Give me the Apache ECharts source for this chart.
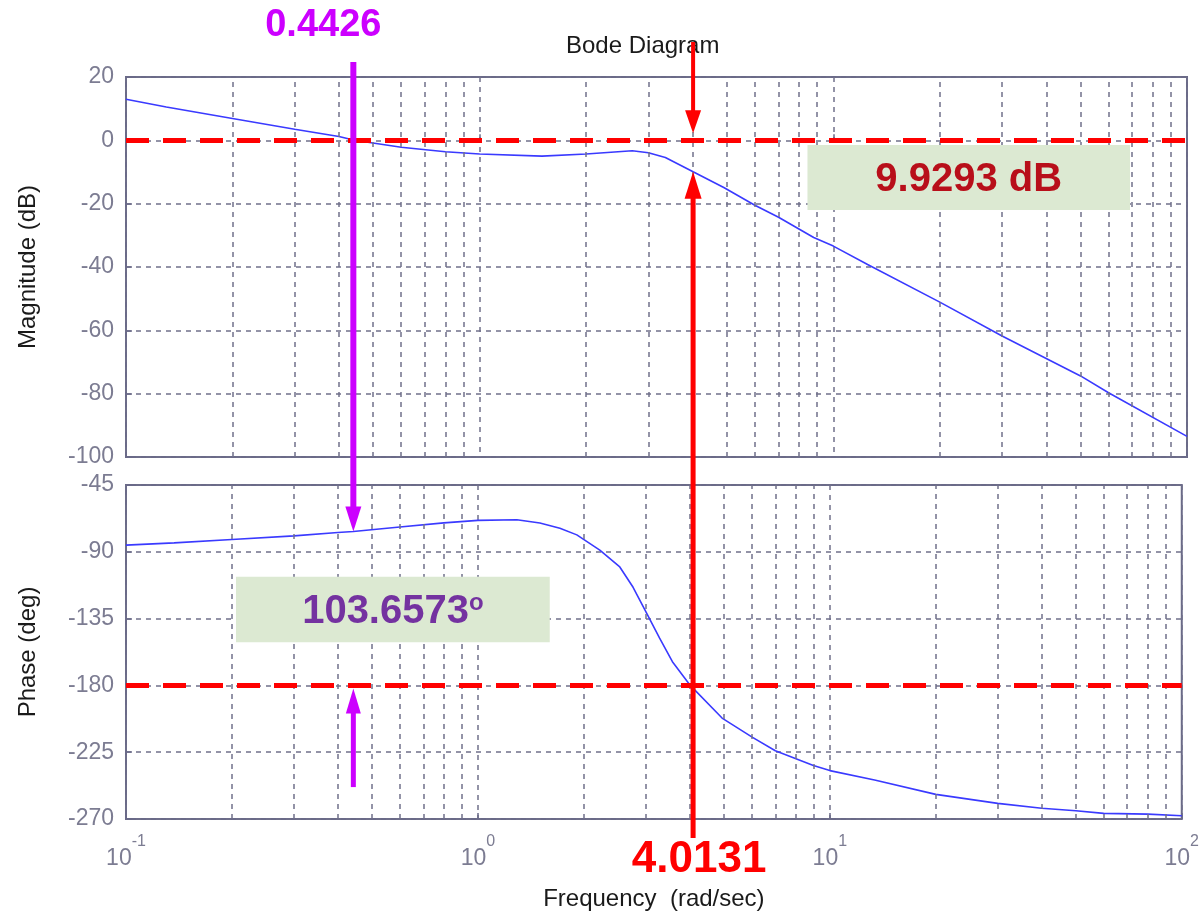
<!DOCTYPE html>
<html>
<head>
<meta charset="utf-8">
<title>Bode Diagram</title>
<script src="https://cdn.jsdelivr.net/npm/echarts@6/dist/echarts.min.js"></script>
<style>
  html, body { margin: 0; padding: 0; background: #ffffff; }
  #chart { width: 1202px; height: 914px; }
</style>
</head>
<body>
<div id="chart"></div>
<script>
// Open-loop frequency response (rad/sec), magnitude in dB
const magFreq = [0.1, 0.13, 0.2, 0.3, 0.4, 0.4426, 0.6, 0.8, 1.0, 1.5, 2.0, 2.7, 3.0, 3.35, 4.0131, 4.9, 6.0, 7.0, 8.8, 10, 12.5, 20, 30, 50, 60, 100];
const magDb   = [13.0, 10.5, 6.9, 3.5, 1.2, 0, -2.2, -3.6, -4.3, -5.0, -4.3, -3.3, -3.9, -5.4, -9.9293, -14.9, -20.5, -24.3, -30.7, -33.4, -39.2, -51.1, -61.8, -74.4, -79.7, -93.5];

// Phase in degrees
const phaseFreq = [0.1, 0.137, 0.2, 0.3, 0.4, 0.4426, 0.6, 0.8, 1.0, 1.29, 1.5, 1.71, 1.91, 2.22, 2.53, 2.76, 3.01, 3.28, 3.57, 4.0131, 4.94, 6.03, 7.0, 8.98, 10, 13.4, 20, 30, 40, 50, 60, 80, 100];
const phaseDeg  = [-85.5, -84.0, -81.7, -79.3, -77.0, -76.34, -73.3, -70.5, -68.8, -68.4, -70.6, -74.1, -78.6, -88.9, -100.2, -113.9, -131.0, -148.0, -164.0, -180.0, -202.0, -215.0, -224.0, -234.0, -237.4, -243.7, -253.4, -259.5, -262.8, -264.4, -266.2, -266.7, -267.8];

// Stability margins
const phaseCrossFreq = 0.4426;   // gain crossover (0 dB)
const phaseMarginDeg = 103.6573;
const gainCrossFreq = 4.0131;    // phase crossover (-180 deg)
const gainMarginDb = 9.9293;

// Axis ticks
const xTickExponents = ['-1', '0', '1', '2'];
const minorFreqs = [0.2, 0.3, 0.4, 0.5, 0.6, 0.7, 0.8, 0.9, 2, 3, 4, 5, 6, 7, 8, 9, 20, 30, 40, 50, 60, 70, 80, 90];

const FONT = '"Liberation Sans", Arial, Helvetica, sans-serif';
const GRID_COLOR = '#70708a';
const FRAME_COLOR = '#6a6a88';
const LABEL_COLOR = '#7c7c92';
const MAGENTA = '#cc00ff';
const RED = '#ff0000';

const zip = (a, b) => a.map((v, i) => [v, b[i]]);

function xAxisCfg(gi, showLabels) {
  return {
    type: 'log', logBase: 10, gridIndex: gi, min: 0.1, max: 100,
    axisLine: { show: false },
    axisTick: { show: true, inside: true, length: 6, lineStyle: { color: FRAME_COLOR, width: 1.5 } },
    splitLine: { show: true, lineStyle: { color: GRID_COLOR, type: [5, 5], width: 1.5 } },
    axisLabel: showLabels ? {
      margin: 15,
      formatter: function (v) {
        const e = Math.round(Math.log10(v));
        return '{b|10}{s|' + xTickExponents[e + 1] + '}';
      },
      rich: {
        b: { fontSize: 23, color: LABEL_COLOR, fontFamily: FONT, padding: [13, 0, 0, 0] },
        s: { fontSize: 16, color: LABEL_COLOR, fontFamily: FONT, verticalAlign: 'top' }
      }
    } : { show: false },
    name: showLabels ? 'Frequency  (rad/sec)' : '',
    nameLocation: 'middle',
    nameGap: 68,
    nameTextStyle: { fontSize: 24, color: '#1a1a1a', fontFamily: FONT }
  };
}

function yAxisCfg(gi, min, max, step, name) {
  return {
    type: 'value', gridIndex: gi, min: min, max: max, interval: step,
    axisLine: { show: false },
    axisTick: { show: true, inside: true, length: 6, lineStyle: { color: FRAME_COLOR, width: 1.5 } },
    splitLine: { show: true, lineStyle: { color: GRID_COLOR, type: [5, 5], width: 1.5 } },
    axisLabel: { fontSize: 23, color: LABEL_COLOR, fontFamily: FONT, margin: 12 },
    name: name, nameLocation: 'middle', nameGap: 86, nameRotate: 90,
    nameTextStyle: { fontSize: 24, color: '#1a1a1a', fontFamily: FONT }
  };
}

function minorGridSeries(gi) {
  return {
    type: 'line', xAxisIndex: gi, yAxisIndex: gi, silent: true, z: 1,
    data: [[1, gi === 0 ? -40 : -135]], showSymbol: false,
    lineStyle: { opacity: 0 },
    markLine: {
      silent: true, symbol: ['none', 'none'], label: { show: false }, animation: false,
      lineStyle: { color: GRID_COLOR, type: [5, 5], width: 1.5 },
      data: minorFreqs.map(v => ({ xAxis: v }))
    }
  };
}

function refLineSeries(gi, yVal) {
  return {
    type: 'line', xAxisIndex: gi, yAxisIndex: gi, silent: true, z: 5,
    data: [[1, yVal]], showSymbol: false,
    lineStyle: { opacity: 0 },
    markLine: {
      silent: true, symbol: ['none', 'none'], label: { show: false }, animation: false,
      lineStyle: { color: RED, type: [23, 14], width: 5 },
      data: [{ yAxis: yVal }]
    }
  };
}

const chart = echarts.init(document.getElementById('chart'), null, { renderer: 'canvas' });

const option = {
  animation: false,
  backgroundColor: '#ffffff',
  title: {
    text: 'Bode Diagram', left: 566, top: 34, padding: 0,
    textStyle: { fontSize: 24, fontWeight: 'normal', color: '#1a1a1a', fontFamily: FONT }
  },
  grid: [
    { left: 126, right: 15, top: 77, height: 380, show: true, borderColor: FRAME_COLOR, borderWidth: 2, backgroundColor: 'transparent' },
    { left: 126, right: 15, top: 485, height: 334, show: true, borderColor: FRAME_COLOR, borderWidth: 2, backgroundColor: 'transparent' }
  ],
  xAxis: [xAxisCfg(0, false), xAxisCfg(1, true)],
  yAxis: [
    yAxisCfg(0, -100, 20, 20, 'Magnitude (dB)'),
    yAxisCfg(1, -270, -45, 45, 'Phase (deg)')
  ],
  series: [
    minorGridSeries(0),
    minorGridSeries(1),
    {
      name: 'Magnitude', type: 'line', xAxisIndex: 0, yAxisIndex: 0, z: 3,
      data: zip(magFreq, magDb), showSymbol: false, smooth: false,
      lineStyle: { color: '#3a3aff', width: 1.6 }
    },
    {
      name: 'Phase', type: 'line', xAxisIndex: 1, yAxisIndex: 1, z: 3,
      data: zip(phaseFreq, phaseDeg), showSymbol: false, smooth: false,
      lineStyle: { color: '#3a3aff', width: 1.6 }
    },
    refLineSeries(0, 0),
    refLineSeries(1, -180)
  ]
};

chart.setOption(option);

// Margin annotations, placed through the axes' own scales
const px = (gi, x, y) => chart.convertToPixel({ gridIndex: gi }, [x, y]);

function arrow(x, yFrom, yTip, color, lineW, headW, headL) {
  const dir = yTip > yFrom ? 1 : -1;
  const base = yTip - dir * headL;
  return [
    { type: 'line', z: 20, silent: true,
      shape: { x1: x, y1: yFrom, x2: x, y2: base + dir * 2 },
      style: { stroke: color, lineWidth: lineW } },
    { type: 'polygon', z: 20, silent: true,
      shape: { points: [[x - headW / 2, base], [x + headW / 2, base], [x, yTip]] },
      style: { fill: color } }
  ];
}

const pmPhase = -180 + phaseMarginDeg;
const pTopFrame = px(0, phaseCrossFreq, 20);
const pPmTip = px(1, phaseCrossFreq, pmPhase);
const pPmLow = px(1, phaseCrossFreq, -180);
const pPmTail = px(1, phaseCrossFreq, -248.5);

const gZero = px(0, gainCrossFreq, 0);
const gTip = px(0, gainCrossFreq, -gainMarginDb);
const gBottom = px(1, gainCrossFreq, -270);

const box1a = px(0, 8.45, -1.5), box1b = px(0, 69, -22);
const box2a = px(1, 0.2054, -106.8), box2b = px(1, 1.60, -151);

const graphics = [].concat(
  arrow(pPmTip[0], pTopFrame[1] - 15, pPmTip[1], MAGENTA, 6, 16, 25),
  arrow(pPmTip[0], pPmTail[1], pPmLow[1] + 3, MAGENTA, 5, 15, 25),
  arrow(gZero[0], pTopFrame[1] - 35, gZero[1] - 7, RED, 4, 16, 23),
  arrow(gTip[0], gBottom[1] + 19, gTip[1], RED, 5, 17, 27),
  [
    { type: 'text', z: 21, silent: true, x: pPmTip[0] - 30, y: 26,
      style: { text: String(phaseCrossFreq), fill: MAGENTA, font: 'bold 38px ' + FONT, align: 'center', verticalAlign: 'middle' } },
    { type: 'text', z: 21, silent: true, x: gZero[0] + 6, y: 860,
      style: { text: String(gainCrossFreq), fill: RED, font: 'bold 44px ' + FONT, align: 'center', verticalAlign: 'middle' } },
    { type: 'rect', z: 15, silent: true,
      shape: { x: box1a[0], y: box1a[1], width: box1b[0] - box1a[0], height: box1b[1] - box1a[1] },
      style: { fill: '#dce9d2' } },
    { type: 'text', z: 21, silent: true, x: (box1a[0] + box1b[0]) / 2, y: (box1a[1] + box1b[1]) / 2 + 2,
      style: { text: gainMarginDb.toFixed(4) + ' dB', fill: '#b80f1a', font: 'bold 40px ' + FONT, align: 'center', verticalAlign: 'middle' } },
    { type: 'rect', z: 15, silent: true,
      shape: { x: box2a[0], y: box2a[1], width: box2b[0] - box2a[0], height: box2b[1] - box2a[1] },
      style: { fill: '#dce9d2' } },
    { type: 'text', z: 21, silent: true, x: (box2a[0] + box2b[0]) / 2, y: (box2a[1] + box2b[1]) / 2 + 2,
      style: {
        text: '{a|' + phaseMarginDeg.toFixed(4) + '}{o|o}',
        align: 'center', verticalAlign: 'middle',
        rich: {
          a: { fill: '#7432a0', fontSize: 40, fontWeight: 'bold', fontFamily: FONT },
          o: { fill: '#7432a0', fontSize: 24, fontWeight: 'bold', fontFamily: FONT, verticalAlign: 'top' }
        }
      } }
  ]
);

chart.setOption({ graphic: graphics });
</script>
</body>
</html>
